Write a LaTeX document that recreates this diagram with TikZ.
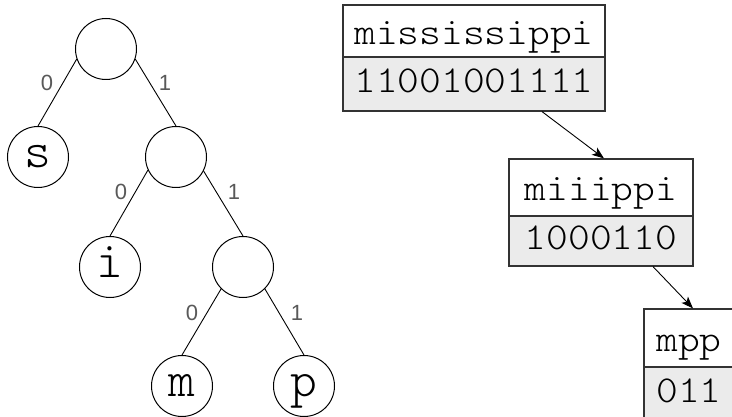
\documentclass[tikz,border=0pt]{standalone}
\usepackage{fontspec}
\usepackage{graphicx}
\newfontfamily\labelfont{Liberation Sans}
\usetikzlibrary{arrows.meta}
\newcommand{\bx}[1]{\scalebox{1.09}[1]{#1}}
\tikzset{
  tnode/.style={circle, draw=black, line width=1pt, minimum size=61pt, inner sep=0pt,
    font=\fontsize{51}{51}\selectfont\ttfamily\fontseries{l}\selectfont, text height=21.6pt, text depth=0pt},
  elabel/.style={font=\fontsize{22}{22}\selectfont\labelfont, text=black!65, inner sep=0pt},
  tedge/.style={draw=black, line width=0.9pt},
  boxtop/.style={draw=black!80, line width=1.2pt, inner sep=0pt, fill=white,
    font=\fontsize{38}{38}\selectfont\ttfamily\fontseries{l}\selectfont, text height=33pt, text depth=6pt},
  boxbot/.style={draw=black!80, line width=1.2pt, inner sep=0pt, fill=black!8,
    font=\fontsize{38}{38}\selectfont\ttfamily\fontseries{l}\selectfont, text height=24pt, text depth=6pt},
  link/.style={draw=black, line width=0.9pt, -{Stealth[length=12pt,width=9pt,inset=3pt]}}
}
\begin{document}
\begin{tikzpicture}[x=1pt,y=-1pt]
\useasboundingbox (0,0) rectangle (732,417);
% tree
\node[tnode] (root) at (106,49) {};
\node[tnode] (s) at (38,157) {s};
\node[tnode] (n2) at (176,157) {};
\node[tnode] (i) at (110,267) {i};
\node[tnode] (n3) at (243,267) {};
\node[tnode] (m) at (182,386) {m};
\node[tnode] (p) at (304,386) {p};
\draw[tedge] (root.199) -- (s.north);
\draw[tedge] (root.341) -- (n2.north);
\draw[tedge] (n2.205) -- (i.north);
\draw[tedge] (n2.333) -- (n3.north);
\draw[tedge] (n3.225) -- (m.north);
\draw[tedge] (n3.315) -- (p.north);
\node[elabel] (la) at (47,83) {0};
\node[elabel] (lb) at (165,83) {1};
\node[elabel] (lc) at (121,192) {0};
\node[elabel] (ld) at (234,192) {1};
\node[elabel] (le) at (192,313) {0};
\node[elabel] (lf) at (297,313) {1};
% boxes
\node[boxtop, minimum width=262pt, minimum height=52pt] (b1t) at (474,31) {\bx{mississippi}};
\node[boxbot, minimum width=262pt, minimum height=54pt] (b1b) at (474,84) {\bx{11001001111}};
\node[boxtop, minimum width=184pt, minimum height=57pt] (b2t) at (601,187.5) {\bx{miiippi}};
\node[boxbot, minimum width=184pt, minimum height=50pt] (b2b) at (601,241) {\bx{1000110}};
\node[boxtop, minimum width=90pt, minimum height=58pt] (b3t) at (689,338) {\bx{mpp}};
\node[boxbot, minimum width=90pt, minimum height=52pt] (b3b) at (689,393) {\bx{011}};
\draw[link] ([xshift=68pt]b1b.south) -- ([xshift=3pt]b2t.north);
\draw[link] ([xshift=52pt]b2b.south) -- ([xshift=4pt]b3t.north);
\end{tikzpicture}
\end{document}
